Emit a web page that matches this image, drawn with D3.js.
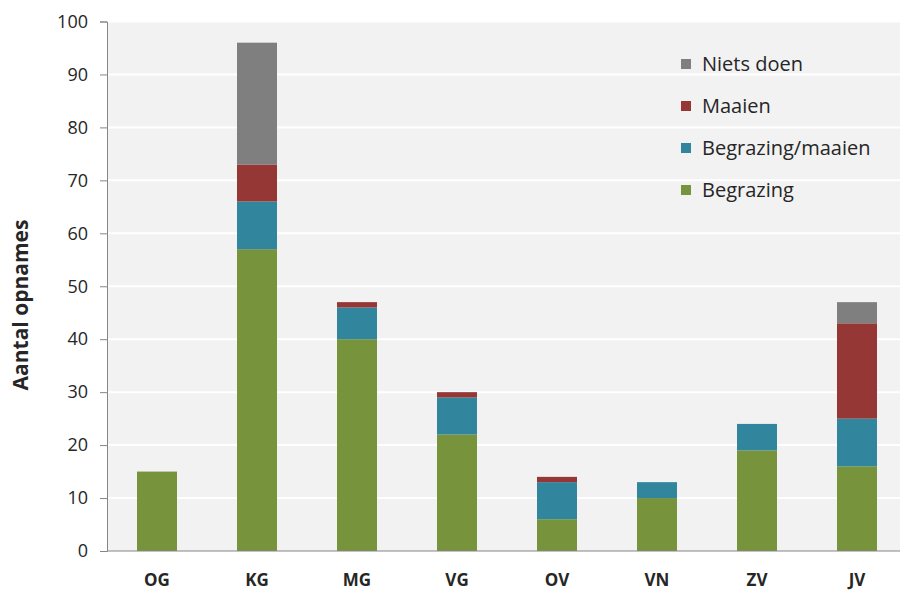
<!DOCTYPE html>
<html>
<head>
<meta charset="utf-8">
<script src="https://cdn.jsdelivr.net/npm/d3@7"></script>
<style>
  body { margin: 0; background: #fff; }
  svg { display: block; font-family: "Open Sans", "DejaVu Sans", sans-serif; }
</style>
</head>
<body>
<svg id="chart" width="900" height="590"></svg>
<script>
// Gebieden en aantallen per beheertype
const gebieden = ["OG", "KG", "MG", "VG", "OV", "VN", "ZV", "JV"];
const begrazing = [15, 57, 40, 22, 6, 10, 19, 16];
const begrazingMaaien = [0, 9, 6, 7, 7, 3, 5, 9];
const maaien = [0, 7, 1, 1, 1, 0, 0, 18];
const nietsDoen = [0, 23, 0, 0, 0, 0, 0, 4];
const yTicks = [0, 10, 20, 30, 40, 50, 60, 70, 80, 90, 100];

const series = [
    { key: "Begrazing", values: begrazing, color: "#77933c" },
    { key: "Begrazing/maaien", values: begrazingMaaien, color: "#31859c" },
    { key: "Maaien", values: maaien, color: "#953735" },
    { key: "Niets doen", values: nietsDoen, color: "#7f7f7f" }
];

const width = 900;
const height = 590;
const margin = { top: 21.5, right: -7, bottom: 39, left: 107 };

const svg = d3.select("#chart");

const x = d3.scaleBand()
    .domain(gebieden)
    .range([margin.left, width - margin.right])
    .paddingInner(0.6)
    .paddingOuter(0.3);

const y = d3.scaleLinear()
    .domain([0, 100])
    .range([height - margin.bottom, margin.top]);

// tabel voor d3.stack
const rows = gebieden.map((g, i) => {
    const r = { gebied: g };
    series.forEach(s => r[s.key] = s.values[i]);
    return r;
});
const stacked = d3.stack().keys(series.map(s => s.key))(rows);

// achtergrond plotgebied
svg.append("rect")
    .attr("x", margin.left)
    .attr("y", margin.top)
    .attr("width", width - margin.left)
    .attr("height", y(0) - margin.top)
    .attr("fill", "#f2f2f2");

// rasterlijnen
svg.append("g")
    .selectAll("line")
    .data(yTicks.filter(d => d > 0))
    .join("line")
    .attr("x1", margin.left)
    .attr("x2", width)
    .attr("y1", d => y(d))
    .attr("y2", d => y(d))
    .attr("stroke", "#fff")
    .attr("stroke-width", 2);

// staven
svg.append("g")
    .selectAll("g")
    .data(stacked)
    .join("g")
    .attr("fill", (d, i) => series[i].color)
    .selectAll("rect")
    .data(d => d)
    .join("rect")
    .attr("x", d => x(d.data.gebied))
    .attr("width", x.bandwidth())
    .attr("y", d => y(d[1]))
    .attr("height", d => y(d[0]) - y(d[1]));

// y-as
const yAxis = svg.append("g")
    .attr("transform", `translate(${margin.left},0)`)
    .call(d3.axisLeft(y).tickValues(yTicks).tickSize(7).tickPadding(12))
    .attr("font-family", null);
yAxis.select(".domain").attr("stroke", "#868686");
yAxis.selectAll(".tick line").attr("stroke", "#868686");
yAxis.selectAll(".tick text")
    .attr("fill", "#262626")
    .style("font-size", "18px");

// x-as
const xAxis = svg.append("g")
    .attr("transform", `translate(0,${y(0)})`)
    .call(d3.axisBottom(x).tickSize(0).tickPadding(23))
    .attr("font-family", null);
xAxis.select(".domain").remove();
xAxis.selectAll(".tick text")
    .attr("fill", "#262626")
    .style("font-size", "17px")
    .style("font-weight", "bold");

svg.append("line")
    .attr("x1", margin.left)
    .attr("x2", width)
    .attr("y1", y(0))
    .attr("y2", y(0))
    .attr("stroke", "#868686");

// as-titel
svg.append("text")
    .attr("transform", `translate(28,305) rotate(-90)`)
    .attr("text-anchor", "middle")
    .attr("fill", "#262626")
    .style("font-size", "21px")
    .style("font-weight", "bold")
    .text("Aantal opnames");

// legenda
const legend = svg.append("g")
    .selectAll("g")
    .data(series.slice().reverse())
    .join("g")
    .attr("transform", (d, i) => `translate(681,${64 + i * 42})`);

legend.append("rect")
    .attr("x", 0)
    .attr("y", -5)
    .attr("width", 10)
    .attr("height", 10)
    .attr("fill", d => d.color);

legend.append("text")
    .attr("x", 21)
    .attr("dy", "0.35em")
    .attr("fill", "#262626")
    .style("font-size", "20px")
    .text(d => d.key);
</script>
</body>
</html>
